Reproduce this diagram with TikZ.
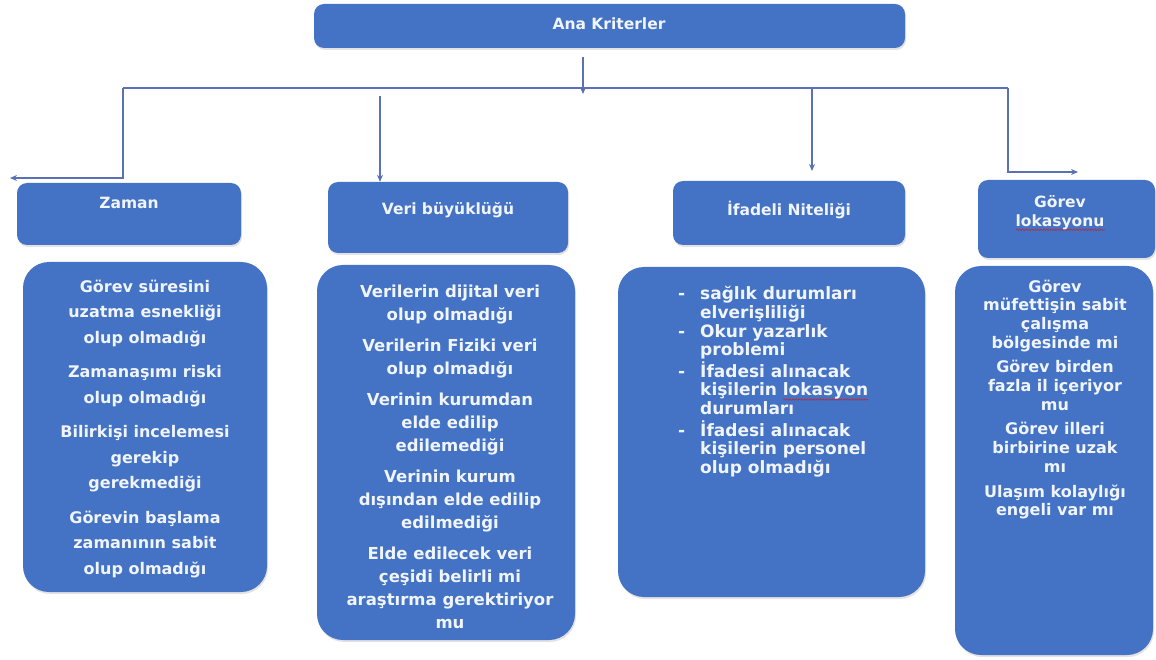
\documentclass[tikz,border=0pt]{standalone}
\usepackage{fontspec}
\setmainfont{DejaVu Sans}
\usetikzlibrary{arrows.meta,shadows,calc,decorations.pathmorphing}
\definecolor{boxblue}{HTML}{4472C4}
\definecolor{linkblue}{HTML}{5A72B5}
\definecolor{txtwhite}{HTML}{F0F4FB}
\definecolor{wavered}{HTML}{B03040}
\newsavebox{\wavebox}
\newcommand\redwave[1]{\sbox{\wavebox}{#1}\leavevmode\rlap{\smash{\tikz[baseline=0pt,x=1pt,y=1pt]\draw[wavered,line width=0.7pt,decorate,decoration={snake,amplitude=0.7pt,segment length=3pt}] (0,-3.5) -- (\the\wd\wavebox,-3.5);}}\usebox{\wavebox}}
\tikzset{
  boxbase/.style={fill=boxblue, draw=none, inner sep=0pt,
    drop shadow={opacity=0.22, shadow xshift=1pt, shadow yshift=-2pt}},
  hdrbox/.style={boxbase, rounded corners=10pt},
  bodybox/.style={boxbase, rounded corners=26pt},
  hdrtext/.style={text=txtwhite, inner sep=0pt, align=center,
    font=\fontsize{15.5}{19}\selectfont\bfseries},
  bodytext/.style={text=txtwhite, inner sep=0pt, align=center},
  link/.style={draw=linkblue, line width=1.1pt},
  arr/.style={link, -{Stealth[length=7pt,width=6pt]}}
}
\begin{document}
\begin{tikzpicture}[x=1pt,y=-1pt]
\useasboundingbox (0,0) rectangle (1156,660);

% top box
\node[hdrbox, minimum width=591pt, minimum height=44pt] (ana) at (609.5,26) {};
\node[hdrtext] (anat) at (609,24) {Ana Kriterler};

% header boxes
\node[hdrbox, minimum width=224pt, minimum height=62pt] (zaman) at (129,214) {};
\node[hdrtext] (zamant) at (129,203) {Zaman};
\node[hdrbox, minimum width=240pt, minimum height=71pt] (veri) at (448,217.5) {};
\node[hdrtext] (verit) at (448,210) {Veri büyüklüğü};
\node[hdrbox, minimum width=232pt, minimum height=64pt] (ifa) at (789,213) {};
\node[hdrtext] (ifat) at (789,210) {İfadeli Niteliği};
\node[hdrbox, minimum width=177pt, minimum height=78pt] (gorev) at (1066.5,219) {};
\node[hdrtext] (gorevt) at (1060,212.5) {Görev\\\redwave{lokasyonu}};

% body boxes
\node[bodybox, minimum width=244pt, minimum height=330pt] (zb) at (145,427) {};
\node[bodybox, minimum width=258pt, minimum height=375pt] (vb) at (446,452.5) {};
\node[bodybox, minimum width=307pt, minimum height=330pt] (ib) at (771.5,432) {};
\node[bodybox, minimum width=198pt, minimum height=389pt] (gb) at (1054,460.5) {};

% body texts
\node[bodytext, anchor=north, font=\fontsize{16}{25.5}\selectfont\bfseries] (zbt) at (145,279.5)
  {Görev süresini\\uzatma esnekliği\\olup olmadığı\\[9pt]Zamanaşımı riski\\olup olmadığı\\[9pt]Bilirkişi incelemesi\\gerekip\\gerekmediği\\[9pt]Görevin başlama\\zamanının sabit\\olup olmadığı};
\node[bodytext, anchor=north, font=\fontsize{16.5}{23}\selectfont\bfseries] (vbt) at (450,284.5)
  {Verilerin dijital veri\\olup olmadığı\\[8pt]Verilerin Fiziki veri\\olup olmadığı\\[8pt]Verinin kurumdan\\elde edilip\\edilemediği\\[8pt]Verinin kurum\\dışından elde edilip\\edilmediği\\[8pt]Elde edilecek veri\\çeşidi belirli mi\\araştırma gerektiriyor\\mu};
\node[bodytext, anchor=north west, align=left, font=\fontsize{17}{18.7}\selectfont\bfseries] (ibt) at (678,286)
  {\begin{tabular}{@{}p{22pt}@{}l@{}}
   - & sağlık durumları\\
     & elverişliliği\\
   - & Okur yazarlık\\
     & problemi\\
   - & İfadesi alınacak\\
     & kişilerin \redwave{lokasyon}\\
     & durumları\\
   - & İfadesi alınacak\\
     & kişilerin personel\\
     & olup olmadığı
   \end{tabular}};
\node[bodytext, anchor=north, font=\fontsize{16}{18.7}\selectfont\bfseries] (gbt) at (1055,279.5)
  {Görev\\müfettişin sabit\\çalışma\\bölgesinde mi\\[6pt]Görev birden\\fazla il içeriyor\\mu\\[6pt]Görev illeri\\birbirine uzak\\mı\\[6pt]Ulaşım kolaylığı\\engeli var mı};

% connectors
\coordinate (busL) at (123,88);
\coordinate (busR) at (1008,88);
\coordinate (zend) at (10,178);
\coordinate (gend) at (1078,172);
\coordinate (vstart) at (380,96);
\coordinate (istart) at (812,88);
\coordinate (iend) at (812,171);
\coordinate (mstart) at (583,57);
\coordinate (mend) at (583,94);

\draw[link] (busL) -- (busR);
\draw[arr] (mstart) -- (mend);
\draw[arr] (busL) |- (zend);
\draw[arr] (vstart) -- (vstart |- veri.north);
\draw[arr] (istart) -- (iend);
\draw[arr] (busR) |- (gend);
\end{tikzpicture}
\end{document}
